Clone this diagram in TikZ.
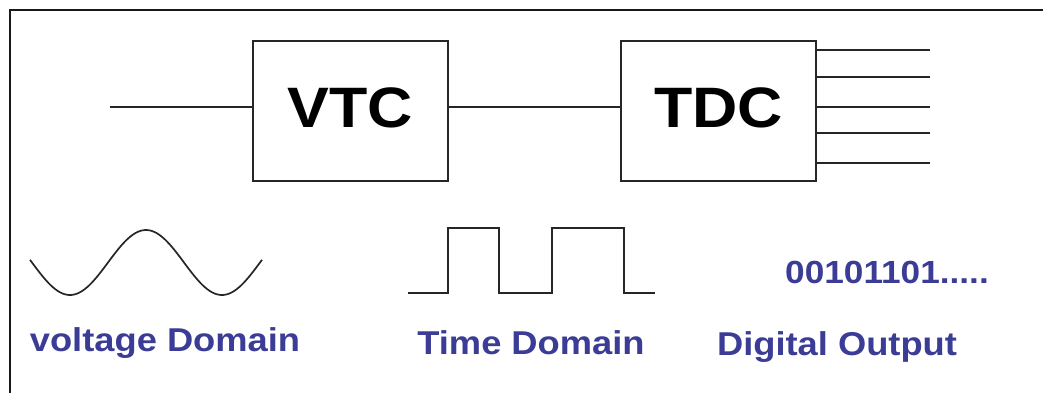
\documentclass[tikz,border=0pt]{standalone}
\usepackage{fontspec}
\setmainfont{Liberation Sans}
\definecolor{lblue}{RGB}{58,60,150}
\newcommand{\wide}[1]{\scalebox{1.1}[1]{#1}}
\begin{document}
\begin{tikzpicture}[x=1pt,y=-1pt,
  wire/.style={line width=1.7pt, draw=black!85},
  blockbox/.style={draw=black!85, line width=1.8pt, minimum width=195pt, minimum height=140pt, inner sep=0pt, text depth=6pt, font=\fontsize{57}{60}\selectfont\bfseries},
  lbl/.style={text=lblue, inner sep=0pt, font=\fontsize{33}{36}\selectfont\bfseries}]
\useasboundingbox (0,0) rectangle (1043,392);
\begin{scope}
\clip (0,0) rectangle (1043,392);
\draw[line width=2pt, draw=black!90] (10,10) rectangle (1070,420);
\end{scope}
\node[blockbox] (vtc) at (350.5,111) {\wide{VTC}};
\node[blockbox] (tdc) at (718.5,111) {\wide{TDC}};
\coordinate (in) at (110,107);
\draw[wire] (in) -- (vtc.west |- in);
\draw[wire] (vtc.east |- in) -- (tdc.west |- in);
\foreach \y [count=\i] in {50,77,107,133,163}{
  \coordinate (o\i) at (930,\y);
  \draw[wire] (tdc.east |- o\i) -- (o\i);
}
% sine wave
\draw[line width=1.7pt, draw=black!85, domain=30:262, samples=120, smooth] plot (\x, {262.5+32.5*sin((\x-32)*2.368421)});
% square wave
\draw[line width=1.7pt, draw=black!85] (408,293) -| (448,228) -| (499,293) -| (552,228) -| (624,293) -- (655,293);
\node[lbl] (vd) at (165,343) {\wide{voltage Domain}};
\node[lbl] (td) at (531,343) {\wide{Time Domain}};
\node[lbl] (dout) at (837,347) {\wide{Digital Output}};
\node[lbl, font=\fontsize{32}{35}\selectfont\bfseries] (bits) at (887,272) {\wide{00101101.....}};
\end{tikzpicture}
\end{document}
